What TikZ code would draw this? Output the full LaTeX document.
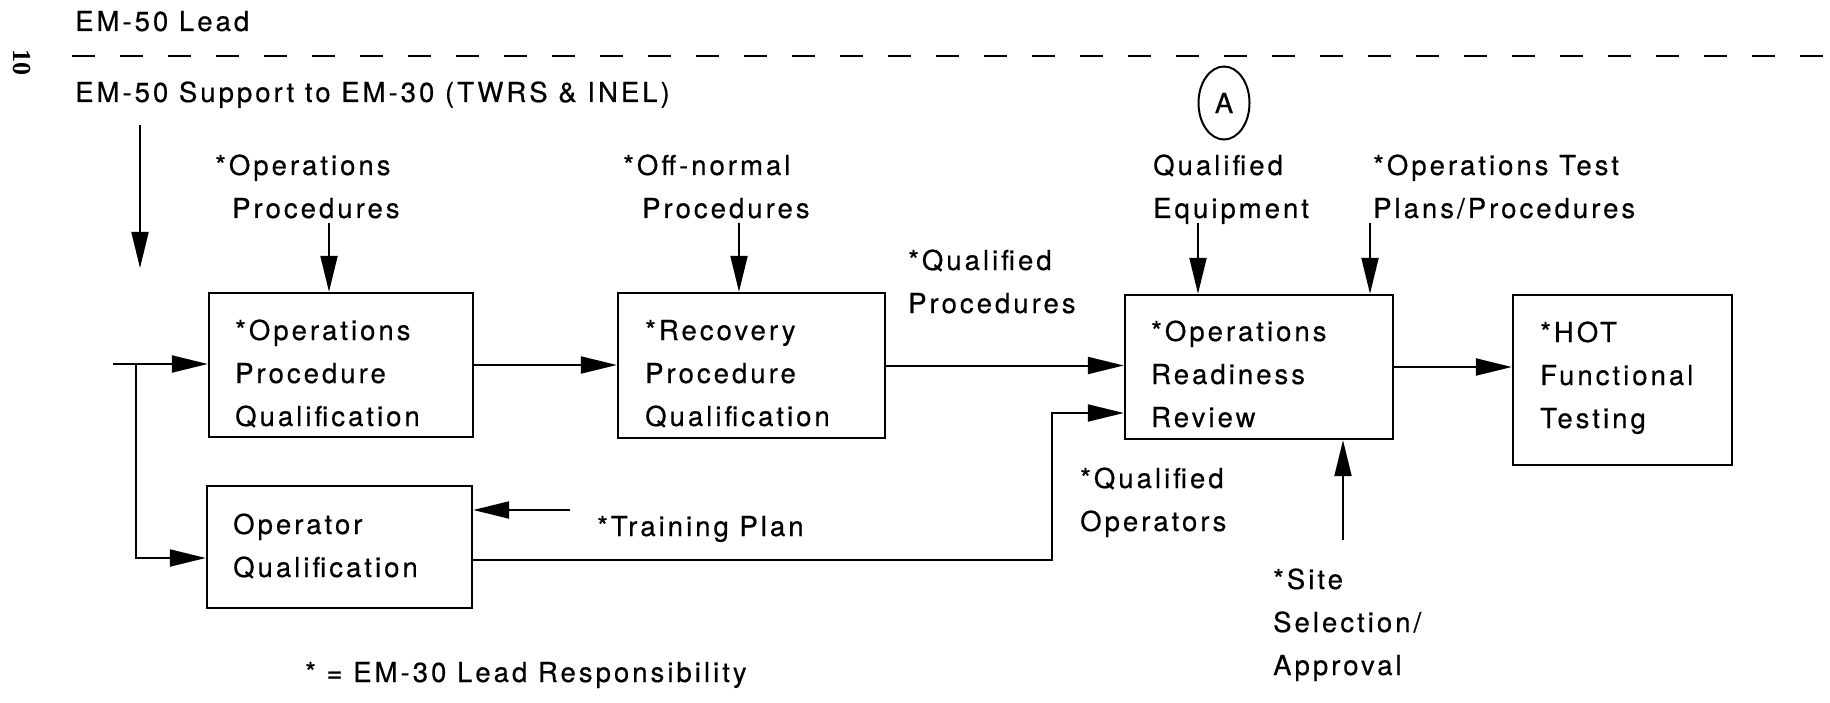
\documentclass[tikz,border=0pt]{standalone}
\usepackage{fontspec}
\setmainfont{TeX Gyre Heros}[LetterSpace=11, FakeBold=0.5]
\newfontfamily\pagenumfont{Liberation Serif}
\usetikzlibrary{arrows.meta,shapes.geometric}

\tikzset{
  % multi-line labels are anchored at the baseline of their last line
  txt/.style={font=\fontsize{27.5}{43}\selectfont, inner sep=0pt, anchor=base west, align=left},
  procbox/.style={draw, line width=2.3pt, inner sep=0pt},
  arr/.style={line width=2pt, -{Triangle[length=36pt,width=17pt]}},
  divider/.style={line width=2pt, dash pattern=on 23pt off 25pt},
}

\begin{document}
\begin{tikzpicture}[x=1pt,y=-1pt]
\useasboundingbox (0,0) rectangle (1830,703);

% page number and lead headings
\node[font=\pagenumfont\bfseries\fontsize{26}{26}\selectfont, rotate=-90, inner sep=0pt] (pg) at (22,63) {10};
\node[txt] (lead) at (75,31) {EM-50 Lead};
\coordinate (dashL) at (72,56);
\coordinate (dashR) at (1830,56);
\draw[divider] (dashL) -- (dashR);
\node[txt] (support) at (75,102) {EM-50 Support to EM-30 (TWRS \& INEL)};

% process boxes
\node[procbox, minimum width=264pt, minimum height=144pt] (b1) at (341,365) {};
\node[procbox, minimum width=265pt, minimum height=122pt] (b2) at (339.5,547) {};
\node[procbox, minimum width=267pt, minimum height=145pt] (b3) at (751.5,365.5) {};
\node[procbox, minimum width=268pt, minimum height=144pt] (b4) at (1259,367) {};
\node[procbox, minimum width=219pt, minimum height=170pt] (b5) at (1622.5,380) {};

% box texts
\node[txt] (t1) at (235,426) {*Operations\\Procedure\\Qualification};
\node[txt] (t2) at (233,577) {Operator\\Qualification};
\node[txt] (t3) at (645,426) {*Recovery\\Procedure\\Qualification};
\node[txt] (t4) at (1151,427) {*Operations\\Readiness\\Review};
\node[txt] (t5) at (1540,428) {*HOT\\Functional\\Testing};

% input labels
\node[txt] (lOps) at (215,218) {*Operations\\\hspace*{17pt}Procedures};
\node[txt] (lOff) at (623,218) {*Off-normal\\\hspace*{19pt}Procedures};
\node[draw, ellipse, line width=2pt, minimum width=51pt, minimum height=73pt, inner sep=0pt,
      font=\fontsize{27.5}{27.5}\selectfont] (circA) at (1224,103) {A};
\node[txt] (lQE) at (1153,218) {Qualified\\Equipment};
\node[txt] (lOT) at (1373,218) {*Operations Test\\Plans/Procedures};
\node[txt] (lQP) at (908,313) {*Qualified\\Procedures};
\node[txt] (lTP) at (597,536) {*Training Plan};
\node[txt] (lQO) at (1080,531) {*Qualified\\Operators};
\node[txt] (lSite) at (1273,675) {*Site\\Selection/\\Approval};
\node[txt] (note) at (305,682) {* = EM-30 Lead Responsibility};

% support arrow
\coordinate (supTop) at (140,125);
\coordinate (supBot) at (140,268);
\draw[arr] (supTop) -- (supBot);

% entry and branch to the two qualification boxes
\coordinate (inStart) at (113,364);
\coordinate (branch) at (136,364);
\coordinate (b2in) at (136,558);
\draw[arr] (inStart) -- (inStart -| b1.west);
\draw[arr] (branch) -- (b2in) -- (b2in -| b2.west);

% inputs from above
\coordinate (opsP) at (329,223);
\coordinate (offP) at (739,223);
\coordinate (qeP) at (1198,223);
\coordinate (otP) at (1370,223);
\draw[arr] (opsP) -- (opsP |- b1.north);
\draw[arr] (offP) -- (offP |- b3.north);
\draw[arr] (qeP) -- (qeP |- b4.north);
\draw[arr] (otP) -- (otP |- b4.north);

% main flow
\draw[arr] (b1.east) -- (b1.east -| b3.west);
\draw[arr] (b3.east) -- (b3.east -| b4.west);
\draw[arr] (b4.east) -- (b4.east -| b5.west);

% training plan and qualified operators
\coordinate (tpP) at (570,510);
\draw[arr] (tpP) -- (tpP -| b2.east);
\coordinate (qoTurn) at (1052,560);
\coordinate (qoTop) at (1052,413);
\draw[arr] (qoTurn -| b2.east) -- (qoTurn) -- (qoTop) -- (qoTop -| b4.west);

% site selection
\coordinate (siteP) at (1343,540);
\draw[arr] (siteP) -- (siteP |- b4.south);
\end{tikzpicture}
\end{document}
